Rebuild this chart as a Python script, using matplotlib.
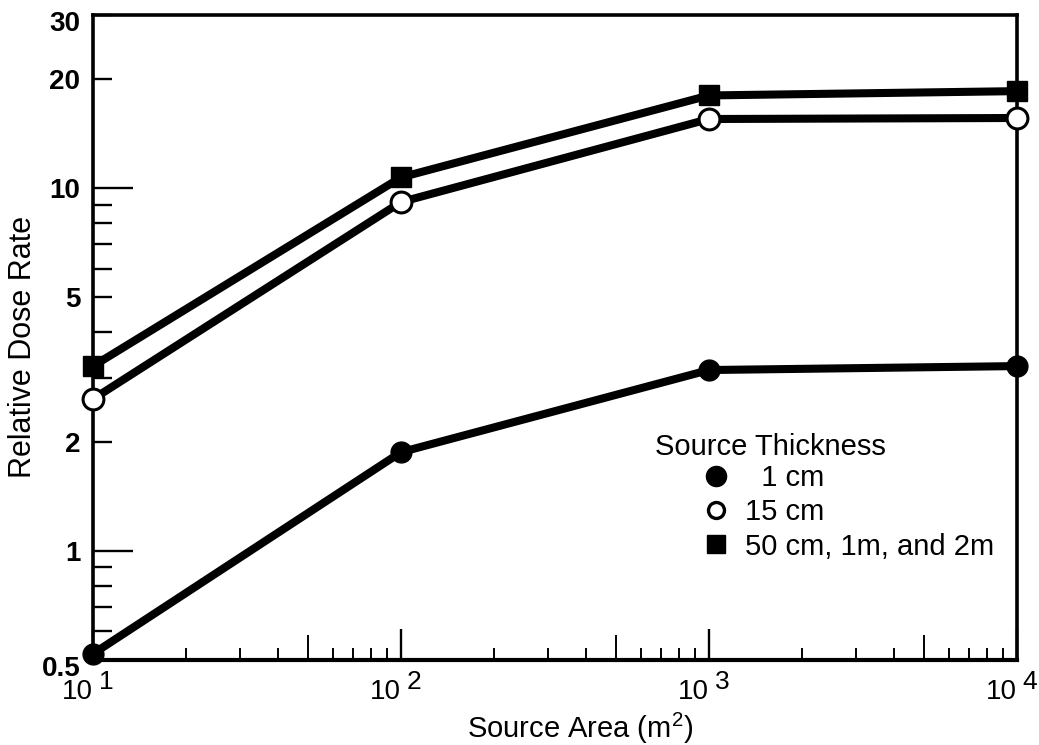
import matplotlib
matplotlib.use('Agg')
import matplotlib.pyplot as plt
from matplotlib.lines import Line2D
from matplotlib.transforms import ScaledTranslation
from matplotlib.ticker import FixedLocator, NullFormatter, FixedFormatter

plt.rcParams['font.family'] = ['Liberation Sans', 'DejaVu Sans']
plt.rcParams['mathtext.fontset'] = 'custom'
plt.rcParams['mathtext.rm'] = 'Liberation Sans'
plt.rcParams['mathtext.it'] = 'Liberation Sans'

# data
area = [10, 100, 1000, 10000]
dose_1cm = [0.52, 1.87, 3.15, 3.23]
dose_15cm = [2.62, 9.15, 15.5, 15.6]
dose_50cm = [3.23, 10.7, 18.0, 18.5]

y_ticks = [0.5, 1, 2, 5, 10, 20, 30]
y_labels = ['0.5', '1', '2', '5', '10', '20', '30']
y_minor = [0.6, 0.7, 0.8, 0.9, 3, 4, 6, 7, 8, 9]
x_ticks = [10, 100, 1000, 10000]
x_exponents = ['1', '2', '3', '4']

legend_title = 'Source Thickness'
legend_labels = ['  1 cm', '15 cm', '50 cm, 1m, and 2m']

fig = plt.figure(figsize=(10.39, 7.45), dpi=100)
ax = fig.add_axes([0.0895, 0.1141, 0.8893, 0.8658])

lw = 5.8
ax.plot(area, dose_1cm, color='black', lw=lw, marker='o', ms=15,
        mfc='black', mec='black', clip_on=False, zorder=3)
ax.plot(area, dose_15cm, color='black', lw=lw, marker='o', ms=15,
        mfc='white', mec='black', mew=2.2, clip_on=False, zorder=3)
ax.plot(area, dose_50cm, color='black', lw=lw, marker='s', ms=14,
        mfc='black', mec='black', clip_on=False, zorder=3)

ax.set_xscale('log')
ax.set_yscale('log')
ax.set_xlim(10, 10000)
ax.set_ylim(0.5, 30)

for s in ax.spines.values():
    s.set_linewidth(2.6)
ax.spines['bottom'].set_linewidth(3)

ax.yaxis.set_major_locator(FixedLocator(y_ticks))
ax.yaxis.set_major_formatter(FixedFormatter(y_labels))
ax.yaxis.set_minor_locator(FixedLocator(y_minor))
ax.yaxis.set_minor_formatter(NullFormatter())
ax.xaxis.set_major_locator(FixedLocator(x_ticks))
ax.xaxis.set_major_formatter(NullFormatter())
x_minor = [m * d for d in [10, 100, 1000] for m in range(2, 10)]
ax.xaxis.set_minor_locator(FixedLocator(x_minor))
ax.xaxis.set_minor_formatter(NullFormatter())

ax.tick_params(axis='y', which='major', direction='in', length=14, width=1.7,
               labelsize=20, pad=9)
ax.tick_params(axis='y', which='minor', direction='in', length=14, width=1.7)
ax.tick_params(axis='x', which='major', direction='in', length=22, width=1.7)
ax.tick_params(axis='x', which='minor', direction='in', length=9, width=1.4)

# longer ticks at 1 and 10, bold labels, end labels nudged down a bit
for t, v in zip(ax.yaxis.get_major_ticks(), y_ticks):
    t.label1.set_fontweight('bold')
    if v in (1, 10):
        t.tick1line.set_markersize(29)
    if v in (0.5, 30):
        t.label1.set_transform(t.label1.get_transform()
                               + ScaledTranslation(0, -6 / 100, fig.dpi_scale_trans))
for t, v in zip(ax.xaxis.get_minor_ticks(), x_minor):
    if v in (50, 500, 5000):
        t.tick1line.set_markersize(18)

# x tick labels as 10 with a full-size raised exponent
for xv, ex in zip(x_ticks, x_exponents):
    ax.annotate('10', xy=(xv, 0), xycoords=('data', 'axes fraction'),
                xytext=(0, -23), textcoords='offset points',
                ha='right', va='center', fontsize=20)
    ax.annotate(ex, xy=(xv, 0), xycoords=('data', 'axes fraction'),
                xytext=(4, -16), textcoords='offset points',
                ha='left', va='center', fontsize=19)

ax.set_xlabel('Source Area (m$^{2}$)', fontsize=21)
ax.xaxis.set_label_coords(0.527, -0.078)
ax.set_ylabel('Relative Dose Rate', fontsize=22)
ax.yaxis.set_label_coords(-0.059, 0.485)

ax.text(0.608, 0.330, legend_title, transform=ax.transAxes, fontsize=21,
        ha='left', va='center')
handles = [
    Line2D([], [], ls='none', marker='o', ms=14.5, mfc='black', mec='black'),
    Line2D([], [], ls='none', marker='o', ms=11.5, mfc='white', mec='black', mew=2.4),
    Line2D([], [], ls='none', marker='s', ms=12.5, mfc='black', mec='black'),
]
ax.legend(handles, legend_labels, loc='upper left', bbox_to_anchor=(0.6616, 0.3034),
          frameon=False, handlelength=0.8, handletextpad=0.59, labelspacing=0.21,
          borderaxespad=0, borderpad=0, fontsize=21)

fig.savefig('out.png', dpi=100)
